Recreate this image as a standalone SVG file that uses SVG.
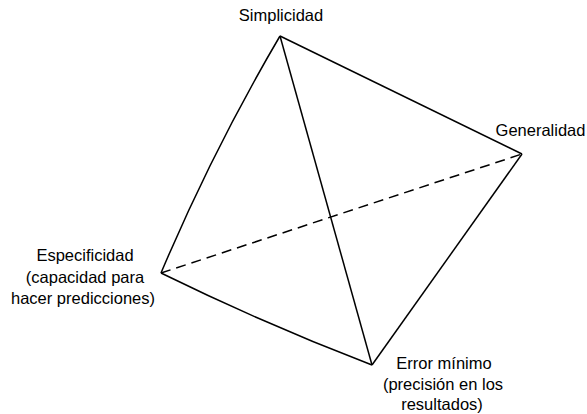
<svg xmlns="http://www.w3.org/2000/svg" width="587" height="414" viewBox="0 0 587 414">
  <style>
    .edge { fill: none; stroke: #000; stroke-width: 1.5; stroke-linejoin: miter; }
    .hidden { stroke-dasharray: 10 6; }
    .label { font-family: "Liberation Sans", Arial, sans-serif; font-size: 16.5px; fill: #000; text-anchor: middle; }
  </style>
  <rect width="587" height="414" fill="#fff"/>

  <!-- tetrahedron edges -->
  <g id="connectors">
    <path class="edge" d="M280,36 Q213,150 161,273"/>
    <path class="edge" d="M280,36 L522,154"/>
    <path class="edge" d="M280,36 L372,365"/>
    <path class="edge" d="M522,154 L372,365"/>
    <path class="edge" d="M161,273 Q265,324 372,365"/>
    <path class="edge hidden" d="M161,273 L522,154"/>
  </g>

  <g id="simplicidad">
    <text class="label" x="281" y="21">Simplicidad</text>
  </g>
  <g id="generalidad">
    <text class="label" x="540.5" y="135.5">Generalidad</text>
  </g>
  <g id="especificidad">
    <text class="label" x="85" y="261">Especificidad</text>
    <text class="label" x="85" y="282.5">(capacidad para</text>
    <text class="label" x="83" y="304">hacer predicciones)</text>
  </g>
  <g id="error-minimo">
    <text class="label" x="444" y="369">Error mínimo</text>
    <text class="label" x="443" y="390">(precisión en los</text>
    <text class="label" x="442" y="410">resultados)</text>
  </g>
</svg>
